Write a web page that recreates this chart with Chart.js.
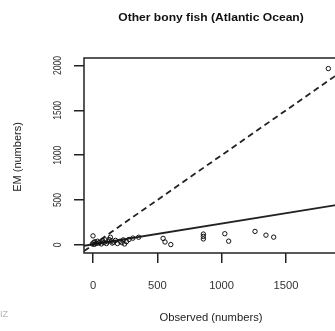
<!DOCTYPE html>
<html>
<head>
<meta charset="utf-8">
<script src="https://cdn.jsdelivr.net/npm/chart.js@4"></script>
<style>
  html, body { margin: 0; padding: 0; background: #fff; overflow: hidden; }
  #wrap { width: 335px; height: 331px; overflow: hidden; position: relative; }
  canvas { position: absolute; left: 0; top: 0; }
</style>
</head>
<body>
<div id="wrap"><canvas id="c" width="380" height="331"></canvas></div>
<script>
// values
var title = 'Other bony fish (Atlantic Ocean)';
var xTitle = 'Observed (numbers)';
var yTitle = 'EM (numbers)';
var xTicks = [0, 500, 1000, 1500, 2000];
var yTicks = [0, 500, 1000, 1500, 2000];
var observed = [0, -5, 5, 10, 15, 25, 35, 45, 55, 65, 75, 85, 95, 105, 115, 125, 135, 145, 150, 160,
                175, 190, 210, 225, 235, 245, 260, 280, 310, 355,
                545, 560, 605, 858, 858, 858, 1025, 1055, 1260, 1345, 1405, 1830];
var em = [100, 10, 25, 5, 35, 15, 40, 20, 30, 10, 45, 25, 55, 15, 35, 60, 85, 45, 20, 30,
          50, 15, 40, 25, 55, 10, 35, 60, 75, 85,
          72, 32, 3, 120, 94, 66, 124, 41, 150, 108, 86, 1966];
var oneToOneX = [-70, 2160];
var oneToOneY = [-70, 2160];
var fitX = [-70, 2160];
var fitY = [-10, 505];

function pts(xs, ys) {
    return xs.map(function(x, i) { return {x: x, y: ys[i]}; });
}

function drawText(ctx, text, x, y, font, color, sx, rot) {
    ctx.save();
    ctx.translate(x, y);
    if (rot) ctx.rotate(rot);
    ctx.scale(sx || 1, 1);
    ctx.font = font;
    ctx.fillStyle = color;
    ctx.textAlign = 'center';
    ctx.textBaseline = 'middle';
    ctx.fillText(text, 0, 0);
    ctx.restore();
}

// box, tick labels and titles drawn like the R plot
var rPlot = {
    id: 'rPlot',
    afterDraw: function(chart) {
        var ctx = chart.ctx, a = chart.chartArea;
        var xs = chart.scales.x, ys = chart.scales.y;
        ctx.save();
        ctx.strokeStyle = '#222';
        ctx.lineWidth = 1.5;
        ctx.strokeRect(a.left, a.top, a.right - a.left, a.bottom - a.top);
        ctx.restore();
        xTicks.forEach(function(v) {
            drawText(ctx, String(v), xs.getPixelForValue(v), 286, '10px "Liberation Sans", Arial', '#333', 1.12);
        });
        yTicks.forEach(function(v) {
            drawText(ctx, String(v), 58, ys.getPixelForValue(v), '10px "Liberation Sans", Arial', '#333', 0.85, -Math.PI / 2);
        });
        drawText(ctx, title, 211, 18, 'bold 11px "Liberation Sans", Arial', '#111', 1.1);
        drawText(ctx, xTitle, 211, 318, '10.5px "Liberation Sans", Arial', '#222', 1.07);
        drawText(ctx, yTitle, 18, 157, '11px "Liberation Sans", Arial', '#222', 1, -Math.PI / 2);
        drawText(ctx, 'IZ', 4, 315, '9px "Liberation Sans", Arial', '#b8b8b8', 1);
    }
};

new Chart(document.getElementById('c'), {
    type: 'scatter',
    data: {
        datasets: [{
            data: pts(observed, em),
            pointRadius: 2.2,
            pointHoverRadius: 2.2,
            pointBorderWidth: 1,
            borderColor: '#111',
            backgroundColor: 'rgba(0,0,0,0)'
        }, {
            type: 'line',
            data: pts(oneToOneX, oneToOneY),
            borderColor: '#222',
            borderWidth: 1.8,
            borderDash: [6, 4],
            pointRadius: 0,
            fill: false
        }, {
            type: 'line',
            data: pts(fitX, fitY),
            borderColor: '#222',
            borderWidth: 1.8,
            pointRadius: 0,
            fill: false
        }]
    },
    options: {
        responsive: false,
        animation: false,
        devicePixelRatio: 1,
        layout: { padding: { left: 0, top: 58, right: 10, bottom: 0 } },
        plugins: { legend: { display: false }, tooltip: { enabled: false } },
        scales: {
            x: {
                type: 'linear',
                min: -70,
                max: 2154,
                afterBuildTicks: function(s) { s.ticks = xTicks.map(function(v) { return {value: v}; }); },
                afterFit: function(s) { s.height = 78; },
                ticks: { display: false },
                border: { display: false },
                grid: { drawOnChartArea: false, drawTicks: true, tickLength: 10, color: '#222', lineWidth: 1.5 }
            },
            y: {
                type: 'linear',
                min: -91,
                max: 2084,
                afterBuildTicks: function(s) { s.ticks = yTicks.map(function(v) { return {value: v}; }); },
                afterFit: function(s) { s.width = 84; },
                ticks: { display: false },
                border: { display: false },
                grid: { drawOnChartArea: false, drawTicks: true, tickLength: 10, color: '#222', lineWidth: 1.5 }
            }
        }
    },
    plugins: [rPlot]
});
</script>
</body>
</html>
